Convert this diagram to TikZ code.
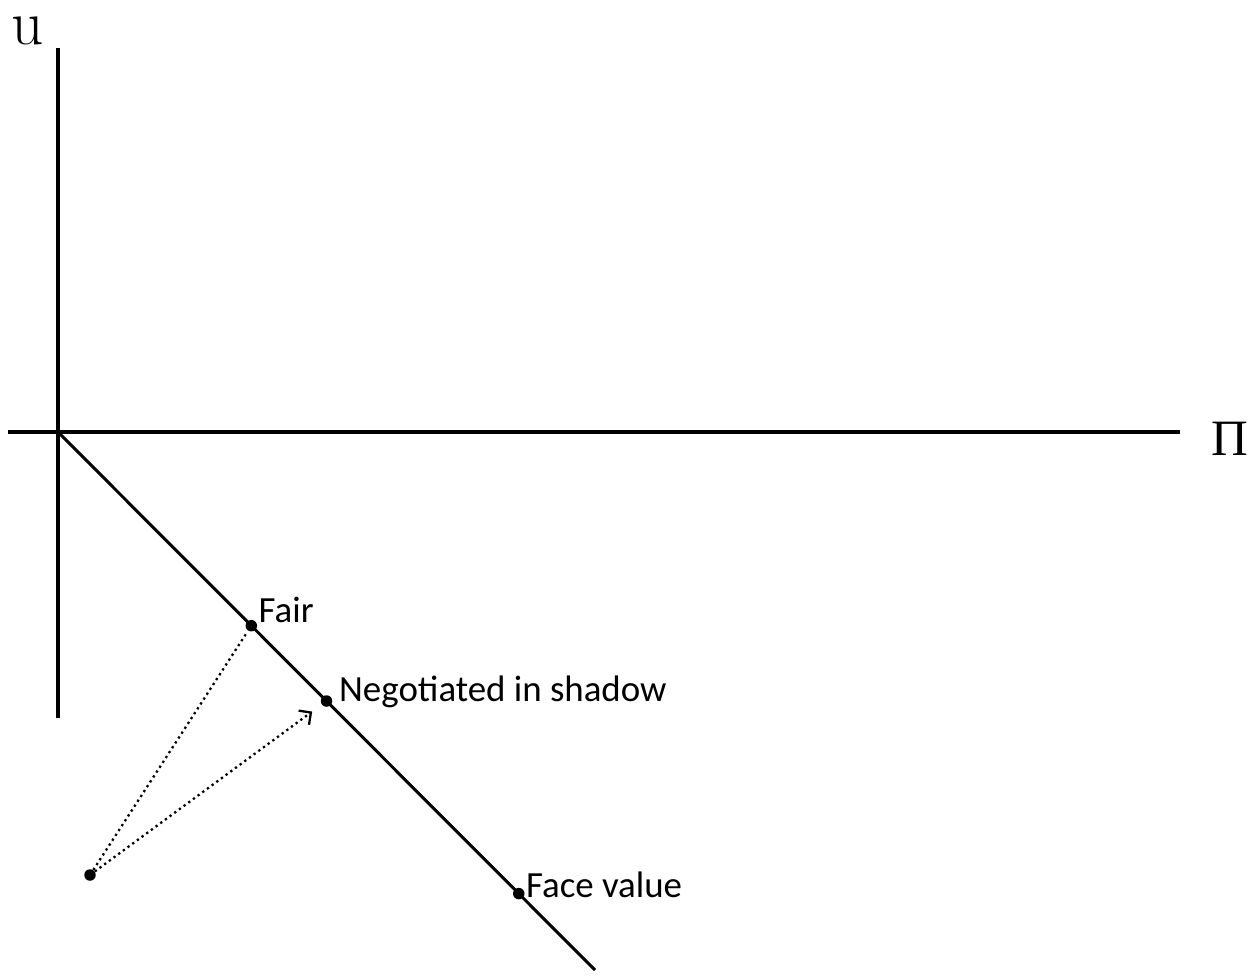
\documentclass[tikz,border=0pt]{standalone}
\usepackage{fontspec}
\setsansfont{Carlito}
\newfontfamily\axisfont{Liberation Serif}
\usetikzlibrary{arrows.meta}
\begin{document}
\begin{tikzpicture}[x=0.02cm, y=-0.02cm, font=\sffamily\fontsize{21}{24}\selectfont,
  axisline/.style={line width=2.3pt},
  dot/.style={circle, fill=black, inner sep=0pt, minimum size=0.23cm},
  offer/.style={dotted, line width=1.3pt}]
\useasboundingbox (0,0) rectangle (1258,978);
%% --- axes ---
\coordinate (O) at (58,432);
\draw[axisline] (58,48) -- (58,718);
\draw[axisline] (8,432) -- (1180,432);
\node[anchor=base, inner sep=0pt] (ulab) at (28,44) {\rmfamily\fontsize{36}{36}\selectfont u};
\node[anchor=base, inner sep=0pt] (pilab) at (1230,455) {\axisfont\fontsize{29}{29}\selectfont Π};
%% --- frontier ---
\coordinate (E) at (595,970);
\draw[line width=1.7pt] (O) -- (E)
  node[dot, pos=0.360] (fair) {}
  node[dot, pos=0.500] (neg) {}
  node[dot, pos=0.858] (face) {};
\node[anchor=west, inner sep=0pt] at ([xshift=4pt,yshift=9pt]fair.center) {Fair};
\node[anchor=west, inner sep=0pt] at ([xshift=7pt,yshift=5pt]neg.center) {Negotiated in shadow};
\node[anchor=west, inner sep=0pt] at ([xshift=4pt,yshift=5pt]face.center) {Face value};
%% --- threat point ---
\node[dot] (start) at (90,875) {};
\draw[offer] (start) -- (fair);
\draw[offer, -{Straight Barb[length=5pt,width=10pt]}, shorten >=6pt] (start) -- (neg);
\end{tikzpicture}
\end{document}
